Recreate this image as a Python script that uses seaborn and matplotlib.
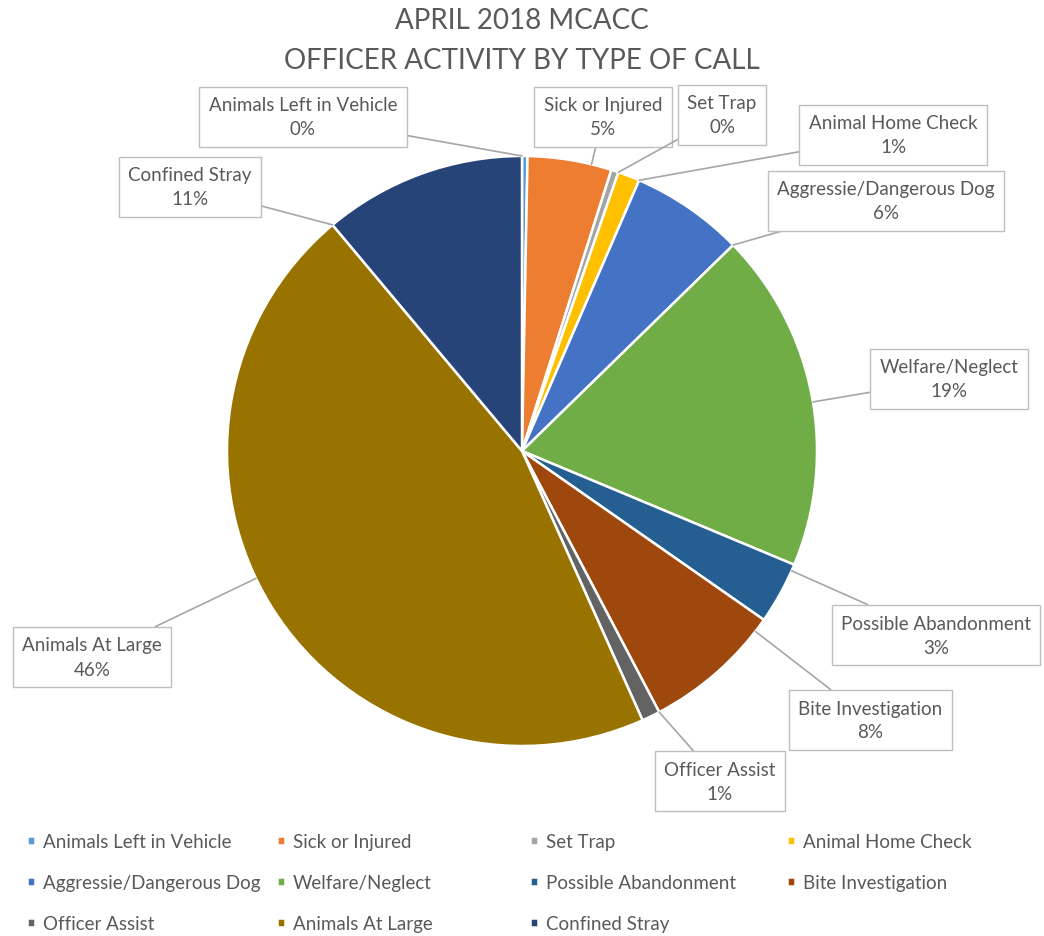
import numpy as np
import seaborn as sns
import matplotlib.pyplot as plt

# --- data (percent of calls) ---
categorie = ['Animals Left in Vehicle', 'Sick or Injured', 'Set Trap', 'Animal Home Check',
             'Aggressie/Dangerous Dog', 'Welfare/Neglect', 'Possible Abandonment',
             'Bite Investigation', 'Officer Assist', 'Animals At Large', 'Confined Stray']
valori = [0.3, 4.6, 0.4, 1.2, 6.2, 18.6, 3.4, 7.6, 1.0, 45.6, 11.1]
colori = ['#5B9BD5', '#ED7D31', '#A5A5A5', '#FFC000', '#4472C4', '#70AD47',
          '#255E91', '#9E480E', '#636363', '#997300', '#264478']

# label box centres in pixels (layout only)
pos_etichette = [(303, 118), (603, 118), (722, 116), (893, 136), (886, 202), (949, 380),
                 (936, 636), (870, 721), (720, 782), (92, 658), (190, 188)]

sns.set_theme(style='white')
plt.rcParams['font.family'] = ['Lato', 'DejaVu Sans']
grigio = '#595959'

W, H = 1044, 937
CX, CY, R = 522, 452, 295

fig = plt.figure(figsize=(W / 100, H / 100), dpi=100)
ax = fig.add_axes([0, 0, 1, 1])

wedges, _ = ax.pie(valori, colors=colori, startangle=90, counterclock=False, radius=1,
                   wedgeprops=dict(edgecolor='white', linewidth=1.8))
ax.set_xlim(-CX / R, (W - CX) / R)
ax.set_ylim(-(H - CY) / R, CY / R)
ax.set_aspect('equal')
ax.axis('off')

totale = sum(valori)
for w, nome, v, (px, py) in zip(wedges, categorie, valori, pos_etichette):
    lx, ly = (px - CX) / R, (CY - py) / R
    # punto sul bordo della fetta piu vicino alla direzione dell'etichetta
    ang = np.degrees(np.arctan2(ly, lx))
    t1, t2 = w.theta1, w.theta2
    d = (ang - t1) % 360
    span = t2 - t1
    if d > span:
        d = span if (d - span) < (360 - d) else 0
    a = np.radians(t1 + d)
    xy = (np.cos(a), np.sin(a))
    ax.annotate(f'{nome}\n{round(v / totale * 100):.0f}%', xy=xy, xytext=(lx, ly),
                ha='center', va='center', fontsize=13.5, color=grigio, linespacing=1.5,
                bbox=dict(boxstyle='square,pad=0.5', fc='white', ec='#bfbfbf', lw=1),
                arrowprops=dict(arrowstyle='-', color='#a6a6a6', lw=1.2,
                                shrinkA=0, shrinkB=0))

fig.text(CX / W, 1 - 21 / H, 'APRIL 2018 MCACC', ha='center', va='center',
         fontsize=20, color=grigio)
fig.text(CX / W, 1 - 61 / H, 'OFFICER ACTIVITY BY TYPE OF CALL', ha='center', va='center',
         fontsize=20, color=grigio)

# legenda: 4 colonne di larghezza uguale, riempite per riga
col_x = [27, 277, 530, 787]
for c in range(4):
    idx = list(range(c, len(categorie), 4))
    fig.legend([wedges[i] for i in idx], [categorie[i] for i in idx],
               loc='upper left', bbox_to_anchor=(col_x[c] / W, 1 - 834 / H),
               frameon=False, fontsize=13.5, labelcolor=grigio,
               handlelength=0.4, handleheight=0.4, handletextpad=0.45,
               labelspacing=1.28, borderaxespad=0, borderpad=0)

fig.savefig('out.png', dpi=100)
